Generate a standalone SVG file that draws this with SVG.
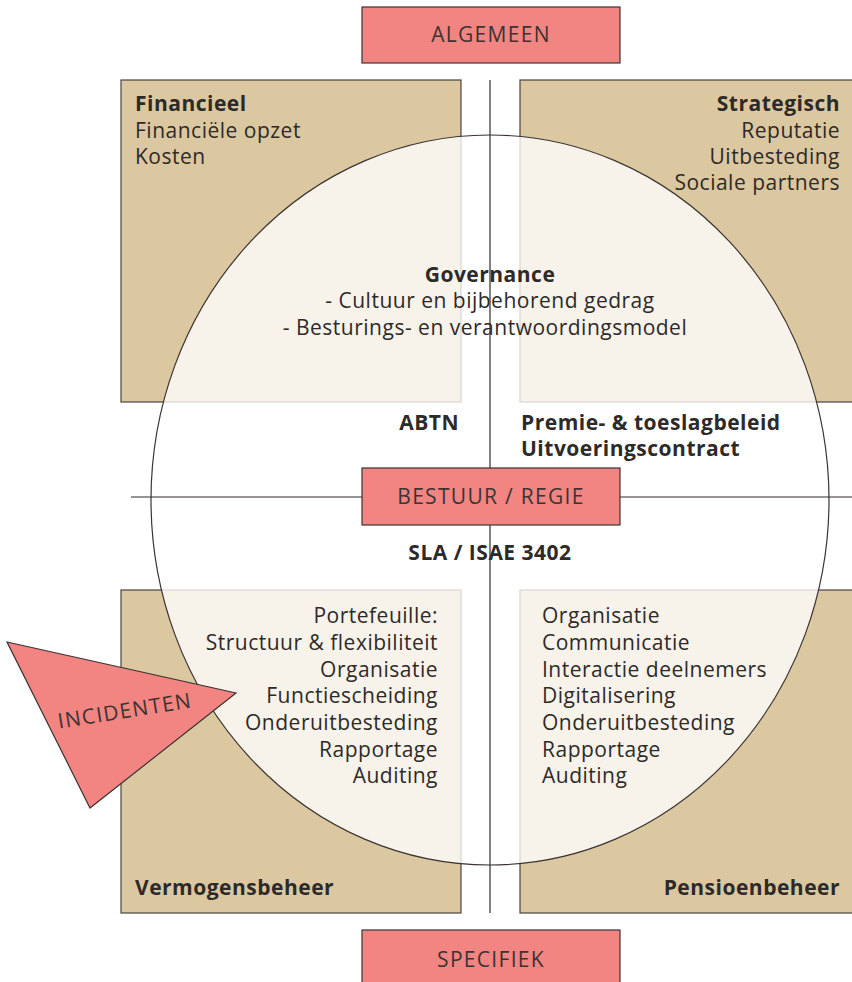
<svg xmlns="http://www.w3.org/2000/svg" width="852" height="982" viewBox="0 0 852 982">
  <style>
    .quad { fill: #dbc7a0; stroke: #4a4340; stroke-width: 1.2; }
    .tag { fill: #f28482; stroke: #3a3433; stroke-width: 1.2; }
    .axis { stroke: #2f2b2a; stroke-width: 1.2; fill: none; }
    text { font-family: "Open Sans", "Liberation Sans", sans-serif; font-size: 21px; letter-spacing: 0.5px; fill: #2d2a28; }
    .b { font-weight: bold; }
    .cap { font-size: 21px; letter-spacing: 1.3px; fill: #3a3433; }
    .r { text-anchor: end; }
    .c { text-anchor: middle; }
  </style>

  <!-- quadrant panels -->
  <g id="financieel-box"><rect class="quad" x="121" y="80" width="340" height="322"/></g>
  <g id="strategisch-box"><rect class="quad" x="520" y="80" width="334" height="322"/></g>
  <g id="vermogensbeheer-box"><rect class="quad" x="121" y="590" width="340" height="323"/></g>
  <g id="pensioenbeheer-box"><rect class="quad" x="520" y="590" width="334" height="323"/></g>

  <!-- governance circle, translucent over the panels -->
  <g id="governance-circle">
    <ellipse cx="490" cy="500" rx="339" ry="365" fill="#ffffff" fill-opacity="0.78" stroke="#3a3433" stroke-width="1.2"/>
  </g>

  <!-- axes -->
  <g id="connectors">
    <line class="axis" x1="490" y1="80" x2="490" y2="913"/>
    <line class="axis" x1="131" y1="497" x2="852" y2="497"/>
  </g>

  <g id="algemeen">
    <rect class="tag" x="362" y="7" width="258" height="56"/>
    <text class="cap c" x="491" y="42">ALGEMEEN</text>
  </g>
  <g id="bestuur-regie">
    <rect class="tag" x="362" y="468" width="258" height="57"/>
    <text class="cap c" x="491" y="504">BESTUUR / REGIE</text>
  </g>
  <g id="specifiek">
    <rect class="tag" x="362" y="930" width="258" height="56"/>
    <text class="cap c" x="491" y="967">SPECIFIEK</text>
  </g>

  <g id="financieel-text">
    <text class="b" x="135" y="111">Financieel</text>
    <text x="135" y="138">Financiële opzet</text>
    <text x="135" y="164">Kosten</text>
  </g>
  <g id="strategisch-text">
    <text class="b r" x="840" y="111">Strategisch</text>
    <text class="r" x="840" y="138">Reputatie</text>
    <text class="r" x="840" y="164">Uitbesteding</text>
    <text class="r" x="840" y="190">Sociale partners</text>
  </g>
  <g id="governance-text">
    <text class="b c" x="490" y="282">Governance</text>
    <text class="c" x="490" y="308">- Cultuur en bijbehorend gedrag</text>
    <text class="c" x="485" y="335">- Besturings- en verantwoordingsmodel</text>
  </g>
  <g id="abtn"><text class="b r" x="459" y="430">ABTN</text></g>
  <g id="premie">
    <text class="b" x="521" y="430">Premie- &amp; toeslagbeleid</text>
    <text class="b" x="521" y="456">Uitvoeringscontract</text>
  </g>
  <g id="sla"><text class="b c" x="490" y="560">SLA / ISAE 3402</text></g>

  <g id="vermogensbeheer-text">
    <text class="r" x="438" y="623">Portefeuille:</text>
    <text class="r" x="438" y="650">Structuur &amp; flexibiliteit</text>
    <text class="r" x="438" y="677">Organisatie</text>
    <text class="r" x="438" y="703">Functiescheiding</text>
    <text class="r" x="438" y="730">Onderuitbesteding</text>
    <text class="r" x="438" y="757">Rapportage</text>
    <text class="r" x="438" y="783">Auditing</text>
    <text class="b" x="135" y="895">Vermogensbeheer</text>
  </g>
  <g id="pensioenbeheer-text">
    <text x="542" y="623">Organisatie</text>
    <text x="542" y="650">Communicatie</text>
    <text x="542" y="677">Interactie deelnemers</text>
    <text x="542" y="703">Digitalisering</text>
    <text x="542" y="730">Onderuitbesteding</text>
    <text x="542" y="757">Rapportage</text>
    <text x="542" y="783">Auditing</text>
    <text class="b r" x="840" y="895">Pensioenbeheer</text>
  </g>

  <g id="incidenten">
    <polygon class="tag" points="7,642 236,693 90,808"/>
    <text class="cap c" transform="translate(126,718) rotate(-9)">INCIDENTEN</text>
  </g>
</svg>
